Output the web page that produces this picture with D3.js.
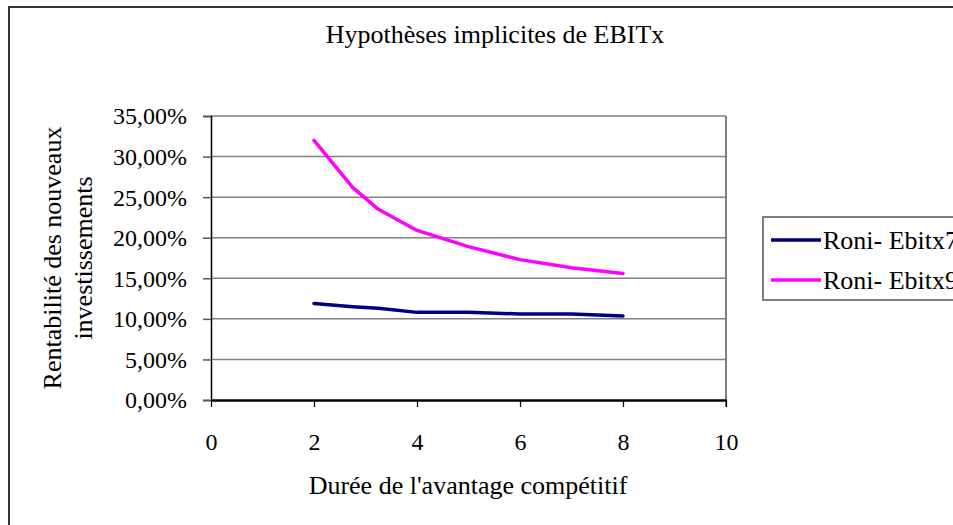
<!DOCTYPE html>
<html>
<head>
<meta charset="utf-8">
<script src="https://cdn.jsdelivr.net/npm/d3@7"></script>
<style>
  html, body { margin: 0; padding: 0; background: #fff; overflow: hidden; }
  svg text { font-family: "Liberation Serif", "Times New Roman", serif !important; fill: #000; }
</style>
</head>
<body>
<div id="chart"></div>
<script>
// Durée de l'avantage compétitif (années)
const durees = [2, 2.75, 3.25, 4, 5, 6, 7, 8];
// Rentabilité des nouveaux investissements
const roniEbitx7 = [0.119, 0.115, 0.113, 0.108, 0.108, 0.106, 0.106, 0.1035];
const roniEbitx9 = [0.320, 0.262, 0.235, 0.209, 0.189, 0.173, 0.163, 0.156];
const seriesNames = ["Roni- Ebitx7", "Roni- Ebitx9"];
const seriesColors = ["#000080", "#ff00ff"];
const xTicks = [0, 2, 4, 6, 8, 10];
const yTicks = [0, 0.05, 0.10, 0.15, 0.20, 0.25, 0.30, 0.35];

const W = 953, H = 525;
const serif = '"Liberation Serif", "Times New Roman", serif';
// plot area, Mike Bostock's margin convention
let margin = { top: 116, left: 211, right: W - 726, bottom: H - 400 },
    width = W - margin.left - margin.right,
    height = H - margin.top - margin.bottom;

const fr = d3.formatLocale({ decimal: ",", thousands: " ", grouping: [3], currency: ["", " €"] });
const pct = fr.format(".2%");

let svg = d3.select("#chart").append("svg")
    .attr("width", W)
    .attr("height", H)
    .attr("font-family", serif);

// outer chart frame (runs off the right and bottom edges)
svg.append("rect")
    .attr("x", 9).attr("y", 7)
    .attr("width", 1000).attr("height", 600)
    .attr("fill", "none")
    .attr("stroke", "#333")
    .attr("stroke-width", 2);

svg.append("text")
    .attr("x", 495).attr("y", 43)
    .attr("text-anchor", "middle")
    .style("font-size", "26px")
    .text("Hypothèses implicites de EBITx");

let g = svg.append("g")
    .attr("transform", "translate(" + margin.left + "," + margin.top + ")");

let xScale = d3.scaleLinear().domain([0, 10]).range([0, width]);
let yScale = d3.scaleLinear().domain([0, 0.35]).range([height, 0]);

// gridlines
g.append("g")
  .selectAll("line")
  .data(yTicks.slice(1))
  .enter().append("line")
    .attr("x1", 0).attr("x2", width)
    .attr("y1", d => yScale(d)).attr("y2", d => yScale(d))
    .attr("stroke", "#808080")
    .attr("stroke-width", 1.5);

// right border of plot area
g.append("line")
    .attr("x1", width).attr("x2", width)
    .attr("y1", 0).attr("y2", height + 7)
    .attr("stroke", "#808080")
    .attr("stroke-width", 2);

// Y axis
let yAxis = g.append("g")
    .call(d3.axisLeft(yScale).tickValues(yTicks).tickFormat(pct).tickSize(8).tickPadding(16));
yAxis.attr("font-family", serif);
yAxis.select(".domain").attr("stroke", "#000").attr("stroke-width", 1.5);
yAxis.selectAll(".tick line").attr("stroke", "#555").attr("stroke-width", 1.5);
yAxis.selectAll("text").style("font-size", "24px").attr("dy", "0.33em");

// X axis
let xAxis = g.append("g")
    .attr("transform", "translate(0," + height + ")")
    .call(d3.axisBottom(xScale).tickValues(xTicks).tickSize(7).tickSizeOuter(0).tickPadding(26));
xAxis.attr("font-family", serif);
xAxis.select(".domain").attr("stroke", "#000").attr("stroke-width", 2.5);
xAxis.selectAll(".tick line").attr("stroke", "#000").attr("stroke-width", 1.2);
xAxis.selectAll("text").style("font-size", "24px");

// axis titles
svg.append("text")
    .attr("x", 468).attr("y", 494)
    .attr("text-anchor", "middle")
    .style("font-size", "26px")
    .text("Durée de l'avantage compétitif");

let yLab = svg.append("text")
    .attr("transform", "translate(61,258) rotate(-90)")
    .attr("text-anchor", "middle")
    .style("font-size", "26px");
yLab.append("tspan").attr("x", 0).attr("dy", 0).text("Rentabilité des nouveaux");
yLab.append("tspan").attr("x", 0).attr("dy", 31).text("investissements");

// series lines
let line = d3.line()
    .x((d, i) => xScale(durees[i]))
    .y(d => yScale(d));

[roniEbitx7, roniEbitx9].forEach((values, k) => {
  g.append("path")
      .datum(values)
      .attr("fill", "none")
      .attr("stroke", seriesColors[k])
      .attr("stroke-width", 3.5)
      .attr("stroke-linejoin", "round")
      .attr("stroke-linecap", "round")
      .attr("d", line);
});

// legend (clipped by the right edge, as in the original)
let legend = svg.append("g").attr("transform", "translate(763,217)");
legend.append("rect")
    .attr("width", 300).attr("height", 83)
    .attr("fill", "#fff")
    .attr("stroke", "#808080")
    .attr("stroke-width", 2);

let items = legend.selectAll(".item")
  .data(seriesNames)
  .enter().append("g")
    .attr("transform", (d, i) => "translate(0," + (23 + i * 40) + ")");
items.append("line")
    .attr("x1", 8).attr("x2", 58)
    .attr("stroke", (d, i) => seriesColors[i])
    .attr("stroke-width", 3.5);
items.append("text")
    .attr("x", 60).attr("dy", "0.33em")
    .style("font-size", "26px")
    .text(d => d);
</script>
</body>
</html>
